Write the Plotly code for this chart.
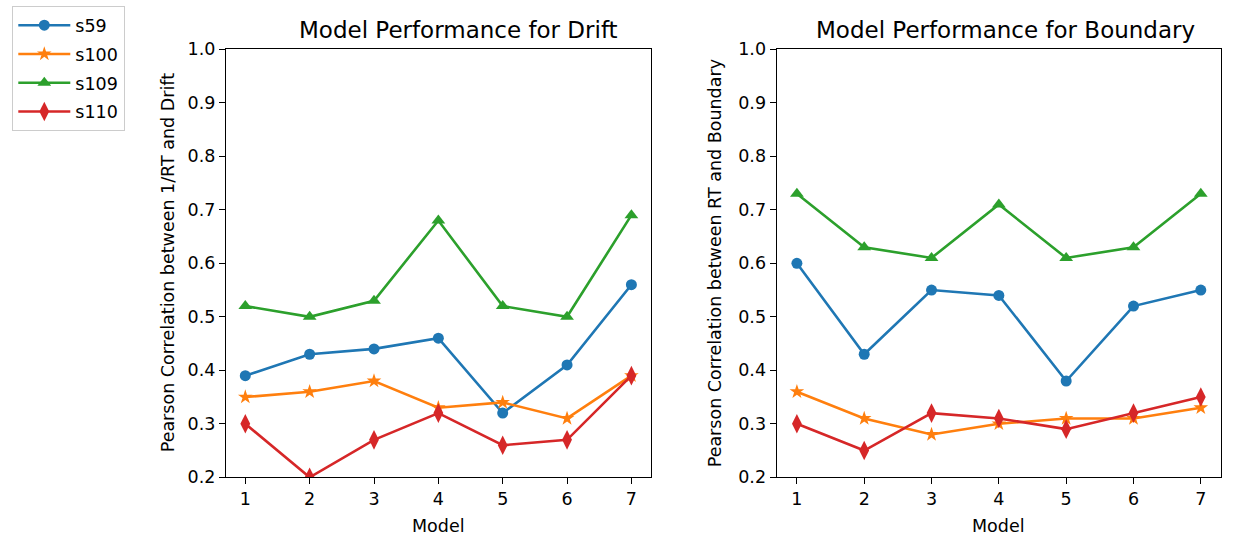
import plotly.graph_objects as go

models = [1, 2, 3, 4, 5, 6, 7]
subjects = ["s59", "s100", "s109", "s110"]

drift_s59 = [0.39, 0.43, 0.44, 0.46, 0.32, 0.41, 0.56]
drift_s100 = [0.35, 0.36, 0.38, 0.33, 0.34, 0.31, 0.39]
drift_s109 = [0.52, 0.50, 0.53, 0.68, 0.52, 0.50, 0.69]
drift_s110 = [0.30, 0.20, 0.27, 0.32, 0.26, 0.27, 0.39]

boundary_s59 = [0.60, 0.43, 0.55, 0.54, 0.38, 0.52, 0.55]
boundary_s100 = [0.36, 0.31, 0.28, 0.30, 0.31, 0.31, 0.33]
boundary_s109 = [0.73, 0.63, 0.61, 0.71, 0.61, 0.63, 0.73]
boundary_s110 = [0.30, 0.25, 0.32, 0.31, 0.29, 0.32, 0.35]

y_ticks = [0.2, 0.3, 0.4, 0.5, 0.6, 0.7, 0.8, 0.9, 1.0]

colors = ["#1f77b4", "#ff7f0e", "#2ca02c", "#d62728"]
symbols = ["circle", "star", "triangle-up", "diamond-tall"]
sizes = [11, 11, 12, 14]

drift = [drift_s59, drift_s100, drift_s109, drift_s110]
boundary = [boundary_s59, boundary_s100, boundary_s109, boundary_s110]

W, H = 1235, 535
FONT = "DejaVu Sans"
TXT = 17.5

fig = go.Figure()
for i, name in enumerate(subjects):
    for vals, xa, ya, show in ((drift[i], "x", "y", True), (boundary[i], "x2", "y2", False)):
        fig.add_trace(go.Scatter(
            x=models, y=vals, xaxis=xa, yaxis=ya,
            mode="lines+markers", name=name, legendgroup=name, showlegend=show,
            line=dict(color=colors[i], width=2.6),
            marker=dict(symbol=symbols[i], size=sizes[i], color=colors[i], line=dict(width=0)),
        ))

def px(x):
    return x / W

def py(y):
    return 1 - y / H

axis_common = dict(
    showline=True, mirror=True, linecolor="black", linewidth=1.3,
    ticks="outside", ticklen=6, tickwidth=1.3, tickcolor="black",
    showgrid=False, zeroline=False, automargin=False,
    tickfont=dict(family=FONT, size=TXT, color="black"),
)

fig.update_layout(
    template="none",
    width=W, height=H,
    margin=dict(l=0, r=0, t=0, b=0, autoexpand=False),
    paper_bgcolor="white", plot_bgcolor="white",
    font=dict(family=FONT, size=TXT, color="black"),
    xaxis=dict(domain=[px(226), px(650.7)], range=[0.7, 7.3], tickvals=models, anchor="y", **axis_common),
    yaxis=dict(domain=[py(477.3), py(49.3)], range=[0.2, 1.0], tickvals=y_ticks, tickformat=".1f", anchor="x", **axis_common),
    xaxis2=dict(domain=[px(776.7), px(1221)], range=[0.7, 7.3], tickvals=models, anchor="y2", **axis_common),
    yaxis2=dict(domain=[py(477.3), py(49.3)], range=[0.2, 1.0], tickvals=y_ticks, tickformat=".1f", anchor="x2", **axis_common),
    legend=dict(
        x=px(12), y=py(6), xanchor="left", yanchor="top",
        bordercolor="#cccccc", borderwidth=1.3, bgcolor="white",
        font=dict(family=FONT, size=TXT, color="black"),
        tracegroupgap=3, itemwidth=52,
    ),
    showlegend=True,
)

annotations = [
    dict(text="Model Performance for Drift", x=px(458.3), y=py(30), size=23, angle=0),
    dict(text="Model Performance for Boundary", x=px(1005.5), y=py(30), size=23, angle=0),
    dict(text="Model", x=px(438.3), y=py(526), size=TXT, angle=0),
    dict(text="Model", x=px(998.8), y=py(526), size=TXT, angle=0),
    dict(text="Pearson Correlation between 1/RT and Drift", x=px(168), y=py(263.3), size=TXT, angle=-90),
    dict(text="Pearson Correlation between RT and Boundary", x=px(715), y=py(263.3), size=TXT, angle=-90),
]
fig.update_layout(annotations=[
    dict(text=a["text"], x=a["x"], y=a["y"], xref="paper", yref="paper",
         xanchor="center", yanchor="middle", showarrow=False, textangle=a["angle"],
         font=dict(family=FONT, size=a["size"], color="black"))
    for a in annotations
])

fig.write_html("out.html")
